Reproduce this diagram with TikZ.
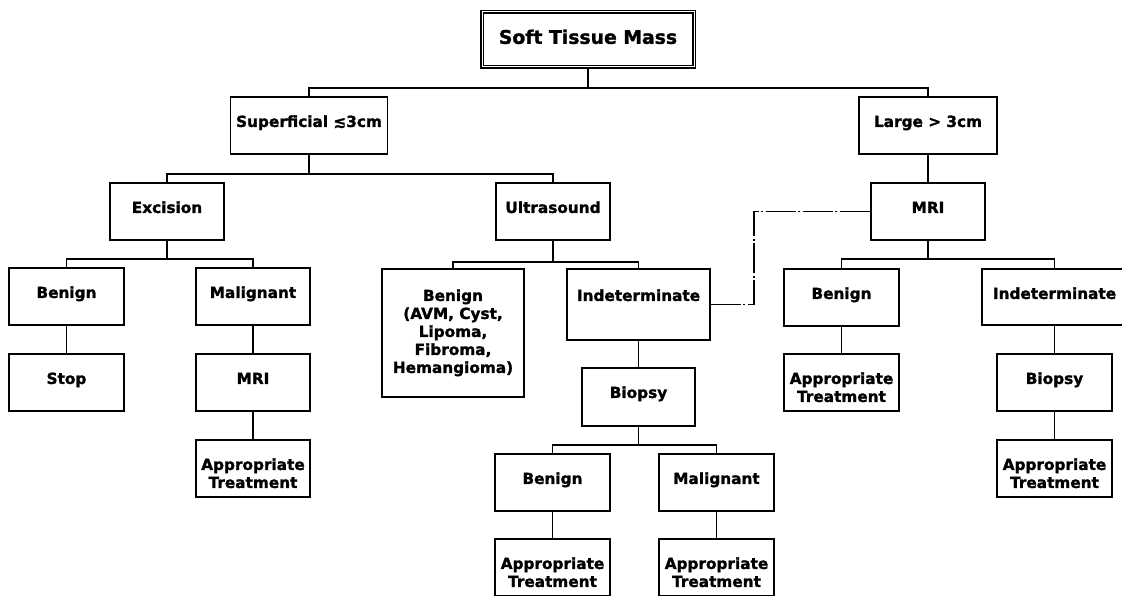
\documentclass[tikz,border=0pt]{standalone}
\usepackage{fontspec}
\setmainfont{DejaVu Sans}
\newfontfamily\heavyfont{DejaVu Sans Bold}[FakeBold=1.4]
\usepackage{tikz}
\usetikzlibrary{calc}

\newcommand{\boxfont}{\fontsize{15.3}{18}\selectfont\heavyfont}
\newcommand{\titlefont}{\fontsize{18.8}{22}\selectfont\heavyfont}

\tikzset{
  box/.style={draw, line width=1.9pt, inner sep=0pt, anchor=north,
    minimum width=115pt, text height=30pt, text depth=27pt,
    align=center, font=\boxfont},
  twoline/.style={text height=48pt, text depth=9pt},
  link/.style={line width=1.7pt},
  linkdash/.style={line width=1.9pt, dash pattern=on 30pt off 2.5pt on 2pt off 2.5pt},
}

\begin{document}
\begin{tikzpicture}[x=1pt, y=-1pt]
\useasboundingbox (0,0) rectangle (1122,595);
\clip (0,0) rectangle (1122,595);

\coordinate (busA) at (588,88);
\coordinate (busB) at (309,174);
\coordinate (busC) at (167,259);
\coordinate (busD) at (553,262);
\coordinate (busE) at (638.5,445);
\coordinate (busF) at (928,259);

% root
\node[box, font=\titlefont, minimum width=212pt, text height=32pt, text depth=23pt,
  line width=1.7pt, double, double distance=1pt] (mass) at (588,11) {Soft Tissue Mass};

% size
\node[box, minimum width=157pt] (sup) at (309,96) {Superficial ≲3cm};
\node[box, minimum width=138pt] (large) at (928,96) {Large > 3cm};

% superficial branch
\node[box, minimum width=114pt] (exc) at (167,182) {Excision};
\node[box, minimum width=114pt] (ultra) at (553,182) {Ultrasound};

\node[box] (benA) at (66.5,267) {Benign};
\node[box, minimum width=114pt] (malA) at (253,267) {Malignant};
\node[box] (stop) at (66.5,353) {Stop};
\node[box, minimum width=114pt] (mriA) at (253,353) {MRI};
\node[box, twoline, minimum width=114pt] (treatA) at (253,439) {Appropriate\\Treatment};

\node[box, minimum width=142pt, text height=104pt, text depth=24pt] (benB) at (453,268)
  {Benign\\(AVM, Cyst,\\Lipoma,\\Fibroma,\\Hemangioma)};
\node[box, minimum width=143pt, text height=32pt, text depth=39pt] (indB) at (638.5,268) {Indeterminate};
\node[box, minimum width=113pt, text depth=28pt] (bioB) at (638.5,367) {Biopsy};
\node[box] (benC) at (552.5,453) {Benign};
\node[box] (malC) at (716.5,453) {Malignant};
\node[box, twoline] (treatC) at (552.5,538) {Appropriate\\Treatment};
\node[box, twoline] (treatD) at (716.5,538) {Appropriate\\Treatment};

% large branch
\node[box, minimum width=114pt] (mriR) at (928,182) {MRI};
\node[box] (benD) at (841.5,268) {Benign};
\node[box, minimum width=145pt, text depth=26pt] (indD) at (1054.5,268) {Indeterminate};
\node[box, twoline] (treatE) at (841.5,353) {Appropriate\\Treatment};
\node[box] (bioD) at (1054.5,353) {Biopsy};
\node[box, twoline] (treatF) at (1054.5,439) {Appropriate\\Treatment};

% connectors
\draw[link] (mass.south) -- (mass.south |- busA);
\draw[link] (sup.north) |- (busA) -| (large.north);

\draw[link] (sup.south) -- (sup.south |- busB);
\draw[link] (exc.north) |- (busB) -| (ultra.north);

\draw[link] (exc.south) -- (exc.south |- busC);
\draw[link] (benA.north) |- (busC) -| (malA.north);
\draw[link] (benA) -- (stop);
\draw[link] (malA) -- (mriA);
\draw[link] (mriA) -- (treatA);

\draw[link] (ultra.south) -- (ultra.south |- busD);
\draw[link] (benB.north) |- (busD) -| (indB.north);
\draw[link] (indB) -- (bioB);
\draw[link] (bioB.south) -- (bioB.south |- busE);
\draw[link] (benC.north) |- (busE) -| (malC.north);
\draw[link] (benC) -- (treatC);
\draw[link] (malC) -- (treatD);

\draw[link] (large) -- (mriR);
\draw[link] (mriR.south) -- (mriR.south |- busF);
\draw[link] (benD.north) |- (busF) -| (indD.north);
\draw[link] (benD) -- (treatE);
\draw[link] (indD) -- (bioD);
\draw[link] (bioD) -- (treatF);

\draw[linkdash] (indB.east) -- ++(43,0) |- (mriR.west);

\end{tikzpicture}
\end{document}
